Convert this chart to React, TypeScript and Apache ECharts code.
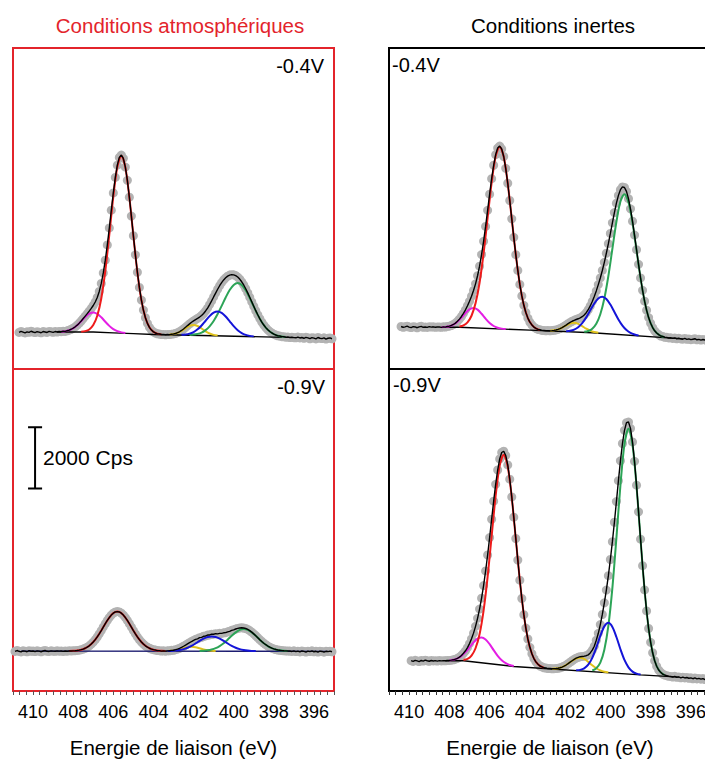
import React, { useEffect, useRef } from 'react';
import * as echarts from 'echarts';

const FONT = '"Liberation Sans", Arial, Helvetica, sans-serif';

// ---- texts / tick labels ----
const X_LABELS = [410, 408, 406, 404, 402, 400, 398, 396];
const AXIS_NAME = 'Energie de liaison (eV)';
const TITLE_LEFT = 'Conditions atmosphériques';
const TITLE_RIGHT = 'Conditions inertes';
const LABEL_TOP = '-0.4V';
const LABEL_BOTTOM = '-0.9V';
const SCALE_LABEL = '2000 Cps';
// scale bar (eV, cps) drawn in the bottom-left panel: 2000 cps tall
const SCALE_BAR = [[410.25, 8600], [409.55, 8600], [409.9, 8600], [409.9, 6600], [409.55, 6600], [410.25, 6600]];

const DATA_STEP = 0.1; // eV between measured points
const COMP_STEP = 0.2; // eV between read points of fitted components

// ---------- Top-left: atmospheric, -0.4 V ----------
const TL_START = 410.7;
const TL_DATA = [
  1195, 1230, 1205, 1180, 1215, 1200, 1235, 1210,
  1190, 1220, 1205, 1185, 1225, 1210, 1195, 1230, 1215, 1200,
  1225, 1210, 1225, 1220, 1235, 1230, 1250, 1270, 1300, 1335,
  1380, 1434, 1500, 1570, 1650, 1730, 1810, 1895, 1981, 2077,
  2192, 2341, 2537, 2799, 3141, 3560, 4057, 4613, 5194, 5759,
  6267, 6667, 6921, 6998, 6892, 6606, 6170, 5619, 5001, 4359,
  3735, 3164, 2669, 2254, 1926, 1678, 1493, 1362, 1274, 1214,
  1178, 1150, 1145, 1128, 1132, 1120, 1130, 1125, 1138, 1146,
  1162, 1187, 1218, 1261, 1308, 1363, 1420, 1475, 1528, 1573,
  1616, 1655, 1699, 1750, 1816, 1898, 1993, 2106, 2228, 2357,
  2484, 2609, 2724, 2826, 2913, 2982, 3037, 3071, 3085, 3080,
  3055, 3008, 2941, 2853, 2748, 2626, 2491, 2347, 2199, 2052,
  1908, 1773, 1648, 1536, 1438, 1354, 1283, 1225, 1179, 1140,
  1112, 1085, 1078, 1058, 1055, 1040, 1045, 1030, 1038, 1025,
  1020, 1045, 1015, 1030, 1005, 1035, 1020, 990, 1025, 1010,
  985, 1030, 1005, 995, 1020, 980, 1005, 1015, 990,
];
const TL_RED = [1218, 1239, 1294, 1437, 1742, 2307, 3207, 4391, 5637, 6607, 6973, 6596, 5616, 4359, 3164, 2254, 1678, 1362, 1214, 1156, 1132];
const TL_RED_START = 407.6;
const TL_MAG = [1220, 1235, 1270, 1332, 1432, 1563, 1702, 1809, 1850, 1804, 1691, 1547, 1411, 1305, 1238, 1198, 1177];
const TL_MAG_START = 408.6;
const TL_YEL = [1128, 1145, 1183, 1250, 1336, 1412, 1441, 1406, 1324, 1233, 1160, 1116, 1094];
const TL_YEL_START = 403.2;
const TL_BLUE = [1119, 1130, 1157, 1209, 1297, 1424, 1579, 1731, 1844, 1884, 1838, 1719, 1561, 1401, 1268, 1174, 1116, 1084, 1067];
const TL_BLUE_START = 402.6;
const TL_GREEN = [1114, 1125, 1148, 1192, 1272, 1395, 1571, 1799, 2066, 2341, 2585, 2751, 2809, 2745, 2573, 2324, 2043, 1770, 1536, 1354, 1225, 1140, 1090, 1061, 1044];
const TL_GREEN_START = 402.2;
const TL_BG = [[408.8, 1212], [407.0, 1210], [406.0, 1183], [405.0, 1157], [404.0, 1130], [401.0, 1087], [398.0, 1043], [397.6, 1037]];

// ---------- Bottom-left: atmospheric, -0.9 V ----------
const BL_START = 410.9;
const BL_DATA = [
  1290, 1320, 1295, 1275, 1310, 1300, 1280, 1315, 1295, 1305,
  1285, 1310, 1300, 1280, 1305, 1320, 1295, 1290, 1310, 1300,
  1295, 1310, 1300, 1305, 1290, 1305, 1298, 1310, 1306, 1309,
  1314, 1322, 1332, 1348, 1367, 1394, 1430, 1474, 1530, 1597,
  1675, 1764, 1864, 1971, 2083, 2194, 2300, 2395, 2476, 2538,
  2577, 2590, 2577, 2538, 2476, 2395, 2300, 2194, 2083, 1971,
  1864, 1764, 1675, 1597, 1530, 1474, 1430, 1394, 1367, 1348,
  1335, 1318, 1316, 1302, 1310, 1300, 1309, 1312, 1325, 1328,
  1347, 1367, 1393, 1423, 1459, 1497, 1537, 1577, 1614, 1648,
  1685, 1700, 1740, 1750, 1785, 1795, 1825, 1828, 1850, 1852,
  1870, 1862, 1880, 1878, 1898, 1902, 1930, 1945, 1978, 1995,
  2021, 2042, 2056, 2061, 2055, 2038, 2009, 1969, 1919, 1863,
  1802, 1739, 1674, 1615, 1559, 1510, 1466, 1428, 1397, 1373,
  1353, 1337, 1327, 1318, 1312, 1308, 1305, 1303, 1290, 1310,
  1285, 1300, 1275, 1305, 1290, 1270, 1300, 1285, 1310, 1280,
  1295, 1270, 1300, 1290, 1265, 1295, 1285, 1300, 1280,
];
const BL_RED = [1304, 1309, 1322, 1348, 1394, 1474, 1597, 1764, 1971, 2194, 2395, 2538, 2590, 2538, 2395, 2194, 1971, 1764, 1597, 1474, 1394, 1348, 1322, 1309, 1304];
const BL_RED_START = 408.2;
const BL_YEL = [1304, 1312, 1329, 1358, 1394, 1427, 1440, 1427, 1394, 1358, 1329, 1312, 1304];
const BL_YEL_START = 403.3;
const BL_BLUE = [1303, 1308, 1318, 1335, 1365, 1410, 1473, 1550, 1633, 1708, 1761, 1780, 1761, 1708, 1633, 1550, 1473, 1410, 1365, 1335, 1318, 1308, 1303];
const BL_BLUE_START = 403.3;
const BL_GREEN = [1305, 1312, 1327, 1353, 1397, 1466, 1559, 1674, 1799, 1911, 1991, 2020, 1991, 1911, 1799, 1674, 1559, 1466, 1397, 1353, 1327, 1312, 1305];
const BL_GREEN_START = 401.7;
const BL_BG = [[410.6, 1300], [395.3, 1292]];

// ---------- Top-right: inert, -0.4 V ----------
const TR_START = 410.4;
const TR_DATA = [
  1390, 1365, 1380, 1400, 1370,
  1355, 1385, 1375, 1350, 1380, 1395, 1365, 1375, 1360, 1385,
  1370, 1380, 1365, 1375, 1372, 1362, 1378, 1370, 1392, 1401,
  1423, 1456, 1500, 1559, 1632, 1718, 1821, 1936, 2070, 2214,
  2379, 2568, 2785, 3050, 3365, 3744, 4178, 4663, 5189, 5720,
  6225, 6664, 7012, 7227, 7293, 7198, 6951, 6564, 6076, 5512,
  4913, 4308, 3739, 3224, 2768, 2390, 2084, 1848, 1666, 1533,
  1441, 1372, 1330, 1295, 1285, 1262, 1260, 1250, 1256, 1248,
  1256, 1265, 1277, 1297, 1322, 1355, 1395, 1437, 1482, 1525,
  1562, 1592, 1619, 1643, 1671, 1711, 1768, 1841, 1939, 2063,
  2209, 2372, 2555, 2760, 2978, 3223, 3488, 3786, 4100, 4436,
  4782, 5118, 5425, 5679, 5866, 5955, 5938, 5809, 5573, 5238,
  4835, 4380, 3902, 3425, 2978, 2575, 2218, 1922, 1682, 1499,
  1356, 1250, 1176, 1125, 1080, 1065, 1038, 1035, 1015, 1020,
  1000, 1015, 990, 1005, 985, 975, 1000, 970, 985, 960,
  975, 990, 955, 970, 945, 965, 950, 935, 960, 940,
];
const TR_RED = [1388, 1426, 1527, 1742, 2148, 2822, 3783, 4945, 6096, 6954, 7271, 6944, 6074, 4913, 3739, 2768, 2084, 1666, 1441, 1328, 1280];
const TR_RED_START = 407.5;
const TR_MAG = [1369, 1378, 1401, 1453, 1546, 1679, 1829, 1952, 1996, 1941, 1807, 1647, 1506, 1407, 1350, 1321, 1307];
const TR_MAG_START = 408.4;
const TR_YEL = [1253, 1264, 1295, 1350, 1424, 1489, 1511, 1478, 1402, 1318, 1252, 1209, 1183];
const TR_YEL_START = 403.0;
const TR_BLUE = [1235, 1252, 1290, 1368, 1499, 1688, 1918, 2144, 2309, 2365, 2291, 2108, 1866, 1622, 1419, 1273, 1181, 1128, 1097];
const TR_BLUE_START = 402.2;
const TR_GREEN = [1216, 1243, 1320, 1482, 1790, 2305, 3042, 3934, 4818, 5476, 5715, 5458, 4782, 3880, 2970, 2215, 1682, 1356, 1176, 1085, 1043];
const TR_GREEN_START = 401.3;
const TR_BG = [[408.2, 1365], [407.5, 1365], [404.0, 1270], [400.9, 1187], [396.4, 985]];

// ---------- Bottom-right: inert, -0.9 V ----------
const BR_START = 409.9;
const BR_DATA = [
  990, 965, 1000, 980, 960, 995, 975, 1005, 985, 970,
  995, 980, 990, 975, 992, 982, 990, 985, 995, 997,
  1005, 1017, 1037, 1065, 1104, 1159, 1229, 1311, 1415, 1545,
  1703, 1887, 2109, 2370, 2670, 3026, 3439, 3914, 4435, 5002,
  5600, 6189, 6739, 7206, 7568, 7777, 7819, 7681, 7372, 6906,
  6330, 5669, 4973, 4271, 3613, 3016, 2489, 2052, 1696, 1425,
  1214, 1058, 951, 875, 815, 788, 756, 750, 732, 733,
  726, 728, 732, 742, 757, 780, 811, 847, 891, 940,
  987, 1033, 1071, 1099, 1119, 1127, 1135, 1151, 1178, 1242,
  1331, 1461, 1655, 1882, 2165, 2495, 2875, 3291, 3761, 4288,
  4869, 5502, 6176, 6858, 7506, 8071, 8500, 8750, 8771, 8563,
  8121, 7489, 6710, 5843, 4951, 4086, 3296, 2610, 2038, 1587,
  1247, 987, 808, 684, 608, 548, 521, 501, 481, 474,
  455, 480, 445, 460, 430, 450, 425, 440, 415, 430,
  400, 425, 395, 410, 385, 405, 375, 395, 370, 385,
];
const BR_RED = [1012, 1046, 1154, 1394, 1853, 2622, 3720, 5051, 6370, 7351, 7707, 7321, 6310, 4966, 3611, 2489, 1696, 1214, 951, 819, 761];
const BR_RED_START = 407.3;
const BR_MAG = [997, 1017, 1062, 1144, 1266, 1421, 1585, 1710, 1748, 1681, 1526, 1332, 1147, 1003, 907, 847, 812];
const BR_MAG_START = 408.0;
const BR_YEL = [726, 732, 757, 811, 891, 985, 1061, 1086, 1044, 950, 838, 741, 670, 627, 603];
const BR_YEL_START = 402.9;
const BR_BLUE = [674, 689, 738, 858, 1082, 1415, 1795, 2107, 2224, 2090, 1760, 1362, 1012, 771, 633, 566, 535];
const BR_BLUE_START = 401.7;
const BR_GREEN = [669, 741, 924, 1347, 2122, 3362, 4993, 6712, 8047, 8551, 8030, 6677, 4941, 3294, 2038, 1247, 808, 608, 521];
const BR_GREEN_START = 400.9;
const BR_BG = [[408.2, 985], [407.3, 985], [404.8, 800], [398.5, 525], [397.0, 470], [396.6, 452]];

// ---- colours ----
const C_RED = '#ee1b1b';
const C_MAG = '#e41ee4';
const C_YEL = '#e0c21c';
const C_BLUE = '#1414d8';
const C_GREEN = '#2ca457';
const C_DOT = '#b3b3b3';
const C_FRAME_RED = '#e3242b';

function onGrid(start: number, step: number, values: number[]) {
  return values.map((v, i) => [Math.round((start - i * step) * 100) / 100, v]);
}

type Comp = { start: number; values: number[]; color: string };

function panelSeries(g: number, start: number, data: number[], comps: Comp[], bg: number[][], bgColor: string) {
  const pts = onGrid(start, DATA_STEP, data);
  const out: any[] = [];
  out.push({
    type: 'scatter', xAxisIndex: g, yAxisIndex: g, data: pts, symbol: 'circle', symbolSize: 9,
    itemStyle: { color: C_DOT, opacity: 1 }, silent: true, z: 1,
  });
  out.push({
    type: 'line', xAxisIndex: g, yAxisIndex: g, data: bg, symbol: 'none',
    lineStyle: { color: bgColor, width: 1.4 }, silent: true, z: 2,
  });
  comps.forEach((c) => {
    out.push({
      type: 'line', xAxisIndex: g, yAxisIndex: g, data: onGrid(c.start, COMP_STEP, c.values),
      symbol: 'none', smooth: 0.3, lineStyle: { color: c.color, width: 2 }, silent: true, z: 3,
    });
  });
  out.push({
    type: 'line', xAxisIndex: g, yAxisIndex: g, data: pts, symbol: 'none',
    lineStyle: { color: '#000', width: 1.4 }, silent: true, z: 4,
  });
  return out;
}

const TICKS: number[] = Array.from({ length: 49 }, (_, k) => Math.round((411 - k / 3) * 1000) / 1000);

function xAxisFor(g: number, bottom: boolean, tickColor: string) {
  return {
    gridIndex: g, type: 'value', min: 395, max: 411, inverse: true, show: bottom,
    axisLine: { show: false },
    axisTick: { show: bottom, inside: false, length: 4, customValues: TICKS, lineStyle: { color: tickColor, width: 1 } },
    axisLabel: { show: bottom, customValues: X_LABELS, margin: 12, fontSize: 18, color: '#000', fontFamily: FONT },
    splitLine: { show: false },
    name: bottom ? AXIS_NAME : '', nameLocation: 'middle', nameGap: 46,
    nameTextStyle: { fontSize: 20.5, color: '#000', fontFamily: FONT },
  };
}

function txt(x: number, y: number, text: string, size: number, align: string, color = '#000') {
  return {
    type: 'text', x, y, silent: true,
    style: {
      text, fill: color, fontSize: size, fontFamily: FONT,
      textAlign: align, align, textVerticalAlign: 'middle', verticalAlign: 'middle',
    },
  };
}

function gridBox(left: number, top: number, width: number, height: number, color: string) {
  return {
    left, top, width, height, show: true, borderColor: color, borderWidth: 2,
    backgroundColor: 'transparent', containLabel: false, outerBoundsMode: 'none',
  };
}

export default function App() {
  const ref = useRef<HTMLDivElement>(null);
  useEffect(() => {
    if (!ref.current) return;
    const chart = echarts.init(ref.current, null, { renderer: 'svg' });
    const series = [
      ...panelSeries(0, TL_START, TL_DATA, [
        { start: TL_MAG_START, values: TL_MAG, color: C_MAG },
        { start: TL_RED_START, values: TL_RED, color: C_RED },
        { start: TL_YEL_START, values: TL_YEL, color: C_YEL },
        { start: TL_GREEN_START, values: TL_GREEN, color: C_GREEN },
        { start: TL_BLUE_START, values: TL_BLUE, color: C_BLUE },
      ], TL_BG, '#000'),
      ...panelSeries(1, BL_START, BL_DATA, [
        { start: BL_RED_START, values: BL_RED, color: C_RED },
        { start: BL_YEL_START, values: BL_YEL, color: C_YEL },
        { start: BL_GREEN_START, values: BL_GREEN, color: C_GREEN },
        { start: BL_BLUE_START, values: BL_BLUE, color: C_BLUE },
      ], BL_BG, '#1c1c70'),
      ...panelSeries(2, TR_START, TR_DATA, [
        { start: TR_MAG_START, values: TR_MAG, color: C_MAG },
        { start: TR_RED_START, values: TR_RED, color: C_RED },
        { start: TR_YEL_START, values: TR_YEL, color: C_YEL },
        { start: TR_GREEN_START, values: TR_GREEN, color: C_GREEN },
        { start: TR_BLUE_START, values: TR_BLUE, color: C_BLUE },
      ], TR_BG, '#000'),
      ...panelSeries(3, BR_START, BR_DATA, [
        { start: BR_MAG_START, values: BR_MAG, color: C_MAG },
        { start: BR_RED_START, values: BR_RED, color: C_RED },
        { start: BR_YEL_START, values: BR_YEL, color: C_YEL },
        { start: BR_GREEN_START, values: BR_GREEN, color: C_GREEN },
        { start: BR_BLUE_START, values: BR_BLUE, color: C_BLUE },
      ], BR_BG, '#000'),
      {
        type: 'line', xAxisIndex: 1, yAxisIndex: 1, data: SCALE_BAR, symbol: 'none',
        lineStyle: { color: '#000', width: 2 }, silent: true, z: 5, clip: false,
      },
    ];
    chart.setOption({
      animation: false,
      backgroundColor: '#fff',
      grid: [
        gridBox(13, 48, 321, 321, C_FRAME_RED),
        gridBox(13, 369, 321, 322, C_FRAME_RED),
        gridBox(389, 48, 322, 321, '#000'),
        gridBox(389, 369, 322, 322, '#000'),
      ],
      xAxis: [
        xAxisFor(0, false, C_FRAME_RED),
        xAxisFor(1, true, '#555'),
        xAxisFor(2, false, '#000'),
        xAxisFor(3, true, '#333'),
      ],
      yAxis: [0, 1, 2, 3].map((g) => ({ gridIndex: g, type: 'value', min: 0, max: 10500, show: false, splitLine: { show: false } })),
      series,
      graphic: [
        txt(180, 25, TITLE_LEFT, 20.5, 'center', C_FRAME_RED),
        txt(553, 25, TITLE_RIGHT, 20.5, 'center'),
        txt(324, 66, LABEL_TOP, 20, 'right'),
        txt(325, 387, LABEL_BOTTOM, 20, 'right'),
        txt(392, 65, LABEL_TOP, 20, 'left'),
        txt(393, 385, LABEL_BOTTOM, 20, 'left'),
        txt(43, 457, SCALE_LABEL, 21, 'left'),
      ],
    });
    return () => chart.dispose();
  }, []);
  return <div ref={ref} style={{ position: 'absolute', left: 0, top: 0, width: 705, height: 760, background: '#fff' }} />;
}
